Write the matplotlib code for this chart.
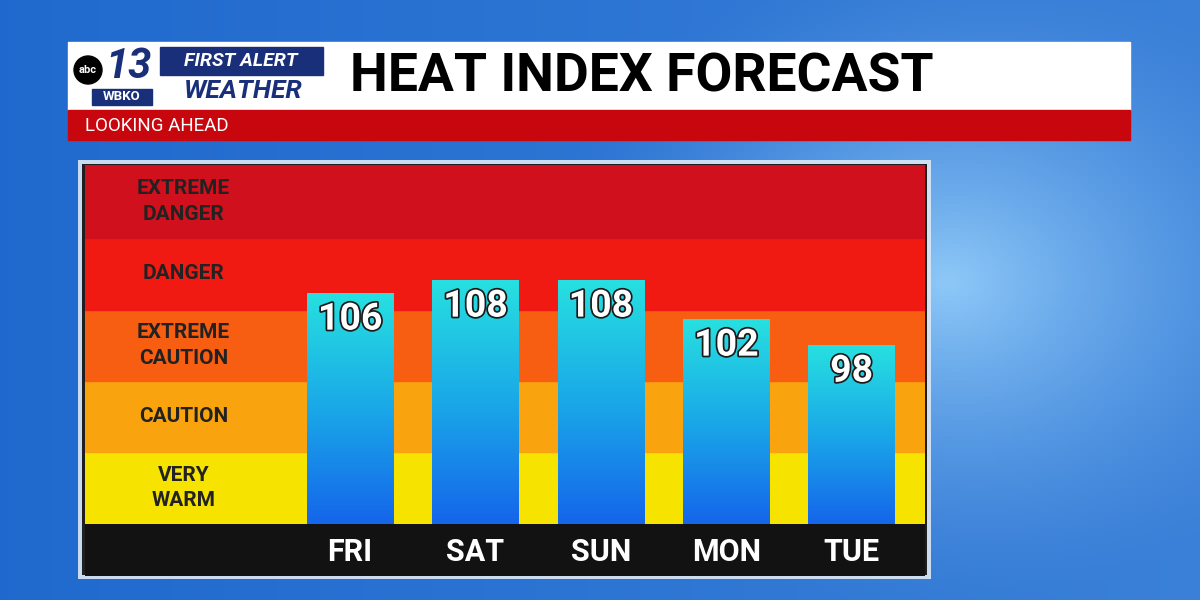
import numpy as np
import matplotlib
matplotlib.use("Agg")
import matplotlib.pyplot as plt
from matplotlib.patches import Rectangle
import matplotlib.patheffects as pe
from matplotlib.colors import LinearSegmentedColormap

days = ["FRI", "SAT", "SUN", "MON", "TUE"]
heat_index = [106, 108, 108, 102, 98]
band_labels = ["VERY\nWARM", "CAUTION", "EXTREME\nCAUTION", "DANGER", "EXTREME\nDANGER"]
band_edges = [70.5, 81.6, 92.5, 103.4, 114.5, 125.7]
band_colors = ["#f6e300", "#f9a40f", "#f75e12", "#f11a12", "#d0101c"]

W, H = 1200, 600
fig = plt.figure(figsize=(12, 6), dpi=100)
plt.rcParams['font.family'] = ['Roboto', 'DejaVu Sans']

def px(x0, y0, x1, y1):
    return [x0 / W, 1 - y1 / H, (x1 - x0) / W, (y1 - y0) / H]

bg = fig.add_axes([0, 0, 1, 1]); bg.axis('off')
xx, yy = np.meshgrid(np.linspace(0, 1, 300), np.linspace(0, 1, 150))
d = np.sqrt(((xx - 0.79) * 1.6) ** 2 + (yy - 0.47) ** 2)
glow = np.clip(1 - d / 0.55, 0, 1) ** 1.5
base = 0.25 + 0.35 * xx
c0 = np.array([0.05, 0.35, 0.78]); c1 = np.array([0.55, 0.78, 0.97])
t = np.clip(base * 0.6 + glow * 0.7, 0, 1)[..., None]
img = c0 * (1 - t) + c1 * t
bg.imshow(img, extent=[0, 1, 0, 1], aspect='auto', origin='upper')
bg.set_xlim(0, 1); bg.set_ylim(0, 1)

ov = fig.add_axes([0, 0, 1, 1]); ov.axis('off')
ov.set_xlim(0, W); ov.set_ylim(H, 0)
ov.add_patch(Rectangle((68, 42), 1062, 68, color='white'))
ov.add_patch(Rectangle((68, 110), 1062, 30, color='#c8060e'))
ov.text(85, 126, "LOOKING AHEAD", color='white', fontsize=13.5, va='center', ha='left')
ov.text(350, 77, "HEAT INDEX FORECAST", color='black', fontsize=38.5, fontweight='bold', va='center', ha='left')
ov.add_patch(Rectangle((160, 47), 163, 28, color='#1a2f7a'))
ov.text(241, 61, "FIRST ALERT", color='white', fontsize=14, fontweight='bold', style='italic', va='center', ha='center')
ov.text(243, 91, "WEATHER", color='#1a2f7a', fontsize=19, fontweight='bold', style='italic', va='center', ha='center')
ov.text(128, 66, "13", color='#1a2f7a', fontsize=30, fontweight='bold', style='italic', va='center', ha='center')
ov.add_patch(plt.Circle((88, 70), 14, color='black'))
ov.text(88, 70, "abc", color='white', fontsize=8, fontweight='bold', va='center', ha='center')
ov.add_patch(Rectangle((92, 89), 60, 16, color='#1a2f7a'))
ov.text(122, 97, "WBKO", color='white', fontsize=9.5, fontweight='bold', va='center', ha='center')
ov.add_patch(Rectangle((78, 160), 853, 419, facecolor='#dde8f5', edgecolor='none', alpha=0.9))
ov.add_patch(Rectangle((82, 164), 845, 411, facecolor='#1f1f1f', edgecolor='none'))

XL = (-2.115, 4.585)
ax = fig.add_axes(px(85, 165, 925, 524))
ax.axis('off')
for i, (lab, col) in enumerate(zip(band_labels, band_colors)):
    ax.axhspan(band_edges[i], band_edges[i + 1], color=col, zorder=0)
    ax.text(-1.33, (band_edges[i] + band_edges[i + 1]) / 2, lab, ha='center', va='center',
            fontsize=15, fontweight='bold', color='#222222', linespacing=1.45)

cmap = LinearSegmentedColormap.from_list('b', ['#1565ea', '#1aa8e8', '#27e0e0'])
grad = np.linspace(0, 1, 256)[:, None]
bw = 0.69
for i, v in enumerate(heat_index):
    im = ax.imshow(grad, cmap=cmap, origin='lower', aspect='auto',
                   extent=[i - bw / 2, i + bw / 2, band_edges[0], v], zorder=2)
    r = Rectangle((i - bw / 2, band_edges[0]), bw, v - band_edges[0], transform=ax.transData)
    im.set_clip_path(r)
    ax.text(i, v - 4.0, str(v), ha='center', va='center', fontsize=27, fontweight='bold',
            color='white', zorder=3,
            path_effects=[pe.withStroke(linewidth=2.5, foreground='#1a1a1a')])
ax.set_xlim(*XL)
ax.set_ylim(band_edges[0], band_edges[-1])

axd = fig.add_axes(px(85, 524, 925, 576))
axd.set_xlim(*XL); axd.set_ylim(0, 1); axd.axis('off')
axd.add_patch(Rectangle((XL[0], 0), XL[1] - XL[0], 1, color='#121212'))
for i, dname in enumerate(days):
    axd.text(i, 0.47, dname, ha='center', va='center', fontsize=22, fontweight='bold', color='white')

fig.savefig('out.png', dpi=100)
